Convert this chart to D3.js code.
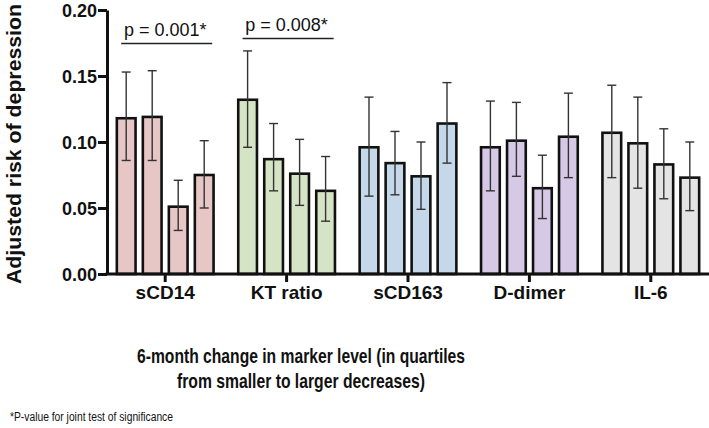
<!DOCTYPE html>
<html><head><meta charset="utf-8">
<script src="https://cdn.jsdelivr.net/npm/d3@7"></script>
<style>body{margin:0;background:#fff}svg{display:block}</style>
</head><body>
<script>
const categories = ["sCD14","KT ratio","sCD163","D-dimer","IL-6"];
const quartiles = ["Q1","Q2","Q3","Q4"];
const values = [
  [0.118,0.119,0.051,0.075],
  [0.132,0.087,0.076,0.063],
  [0.096,0.084,0.074,0.114],
  [0.096,0.101,0.065,0.104],
  [0.107,0.099,0.083,0.073]
];
const ciLow = [
  [0.086,0.086,0.033,0.050],
  [0.096,0.063,0.052,0.040],
  [0.059,0.060,0.049,0.084],
  [0.063,0.074,0.042,0.073],
  [0.073,0.065,0.057,0.048]
];
const ciHigh = [
  [0.153,0.154,0.071,0.101],
  [0.169,0.114,0.102,0.089],
  [0.134,0.108,0.100,0.145],
  [0.131,0.130,0.090,0.137],
  [0.143,0.134,0.110,0.100]
];
const colors = ["#e7c6c6","#d5e4c5","#c5d8ea","#d6c9e5","#e4e4e4"];
const yTicks = [0,0.05,0.10,0.15,0.20];
const pLabels = [{cat:"sCD14", text:"p = 0.001*"},{cat:"KT ratio", text:"p = 0.008*"}];

const W=709,H=428;
const svg=d3.select("body").append("svg").attr("width",W).attr("height",H)
  .style("font-family","'Liberation Sans', Arial, Helvetica, sans-serif");

const y=d3.scaleLinear().domain([0,0.20]).range([274,10]);
const x=d3.scaleBand().domain(categories).range([104.5,711.5]).padding(0);
const xs=d3.scaleBand().domain(quartiles).range([-52,52]).paddingInner(0.28).paddingOuter(0.14);

// bars
categories.forEach((c,i)=>{
  const g=svg.append("g").attr("transform",`translate(${x(c)+x.bandwidth()/2},0)`);
  quartiles.forEach((q,j)=>{
    const bx=xs(q), bw=xs.bandwidth();
    g.append("rect").attr("x",bx).attr("y",y(values[i][j])).attr("width",bw)
      .attr("height",y(0)-y(values[i][j])).attr("fill",colors[i])
      .attr("stroke","#111").attr("stroke-width",2.6);
    const cx=bx+bw/2;
    g.append("line").attr("x1",cx).attr("x2",cx).attr("y1",y(ciLow[i][j])).attr("y2",y(ciHigh[i][j]))
      .attr("stroke","#333").attr("stroke-width",1.4);
    [ciLow[i][j],ciHigh[i][j]].forEach(v=>{
      g.append("line").attr("x1",cx-4.5).attr("x2",cx+4.5).attr("y1",y(v)).attr("y2",y(v))
        .attr("stroke","#333").attr("stroke-width",1.4);
    });
  });
});

// y axis
const ya=svg.append("g").attr("transform","translate(107,0)")
  .call(d3.axisLeft(y).tickValues(yTicks).tickFormat(d3.format(".2f")).tickSize(9).tickSizeOuter(0));
ya.select(".domain").attr("stroke","#111").attr("stroke-width",3);
ya.selectAll(".tick line").attr("stroke","#111").attr("stroke-width",3);
ya.selectAll(".tick text").attr("font-size",18).attr("font-weight","bold").attr("fill","#111")
  .attr("x",-10).attr("dy","0.36em");

// x axis
const xa=svg.append("g").attr("transform","translate(0,274)")
  .call(d3.axisBottom(x).tickSize(8).tickSizeOuter(0));
xa.select(".domain").attr("stroke","#111").attr("stroke-width",3).attr("d","M105.5,0H709");
xa.selectAll(".tick line").attr("stroke","#111").attr("stroke-width",3);
xa.selectAll(".tick text").attr("font-size",19).attr("font-weight","bold").attr("fill","#111")
  .attr("y",12).attr("dy","0.71em");

// p-value annotations
const pY=[43.5,38.5];
pLabels.forEach((p,k)=>{
  const cx=x(p.cat)+x.bandwidth()/2+1;
  svg.append("line").attr("x1",cx-45).attr("x2",cx+46).attr("y1",pY[k]).attr("y2",pY[k])
    .attr("stroke","#222").attr("stroke-width",1.5);
  svg.append("text").attr("x",cx-1).attr("y",pY[k]-8).attr("text-anchor","middle")
    .attr("font-size",18).attr("fill","#111").text(p.text);
});

// y title
svg.append("text").attr("transform","translate(21,144) rotate(-90)").attr("text-anchor","middle")
  .attr("font-size",20).attr("font-weight","bold").attr("fill","#111")
  .attr("textLength",280).attr("lengthAdjust","spacingAndGlyphs")
  .text("Adjusted risk of depression");

// x title
svg.append("text").attr("x",301).attr("y",363).attr("text-anchor","middle")
  .attr("font-size",21).attr("font-weight","bold").attr("fill","#111")
  .attr("textLength",328).attr("lengthAdjust","spacingAndGlyphs")
  .text("6-month change in marker level (in quartiles");
svg.append("text").attr("x",301).attr("y",388).attr("text-anchor","middle")
  .attr("font-size",21).attr("font-weight","bold").attr("fill","#111")
  .attr("textLength",248).attr("lengthAdjust","spacingAndGlyphs")
  .text("from smaller to larger decreases)");

// footnote
svg.append("text").attr("x",10).attr("y",421)
  .attr("font-size",12).attr("fill","#111")
  .attr("textLength",163).attr("lengthAdjust","spacingAndGlyphs")
  .text("*P-value for joint test of significance");
</script>
</body></html>
